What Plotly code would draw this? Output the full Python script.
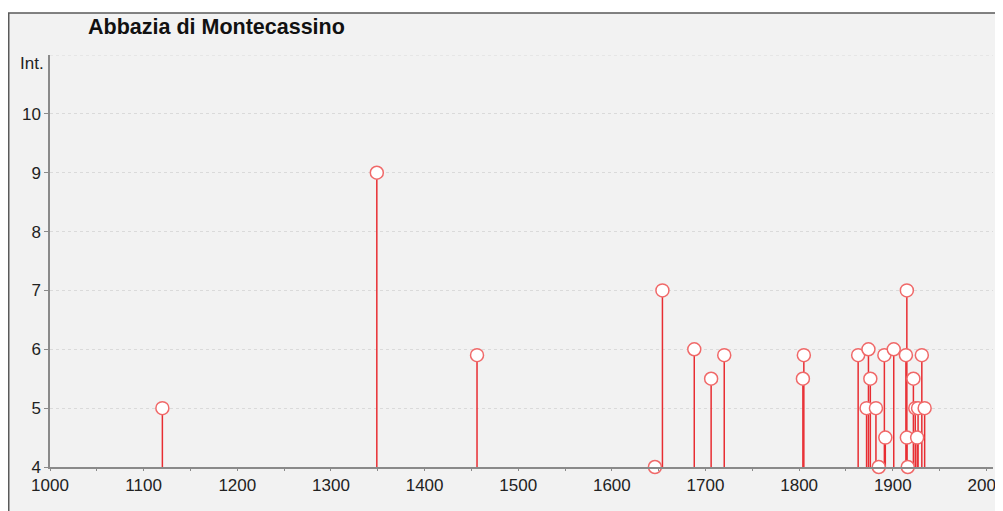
import plotly.graph_objects as go

# Data
years = [1120, 1349, 1456, 1646, 1654, 1688, 1706, 1720, 1804, 1805,
         1863, 1872, 1874, 1876, 1882, 1885, 1891, 1892, 1901,
         1914, 1915, 1915, 1916, 1922, 1924, 1926, 1927, 1931, 1934]
intensity = [5.0, 9.0, 5.9, 4.0, 7.0, 6.0, 5.5, 5.9, 5.5, 5.9,
             5.9, 5.0, 6.0, 5.5, 5.0, 4.0, 5.9, 4.5, 6.0,
             5.9, 7.0, 4.5, 4.0, 5.5, 5.0, 4.5, 5.0, 5.9, 5.0]
base = 4.0
title = "Abbazia di Montecassino"
y_title = "Int."
x_ticks = [1000, 1100, 1200, 1300, 1400, 1500, 1600, 1700, 1800, 1900, 2000]
y_ticks = [4, 5, 6, 7, 8, 9, 10]

FONT = "Liberation Sans, Arial, sans-serif"
BG = "#f2f2f2"

# page body has an 8px margin: figure sits at (8, 8) in the window
W, H = 995, 503
L, R, T, B = 42, 10, 47, 44
PW, PH = W - L - R, H - T - B

fig = go.Figure()
fig.add_trace(go.Scatter(
    x=years, y=intensity, mode="markers",
    marker=dict(size=13, color="white", line=dict(color="rgb(240,105,105)", width=1.5)),
    error_y=dict(type="data", symmetric=False,
                 array=[0] * len(intensity),
                 arrayminus=[v - base for v in intensity],
                 color="rgb(232,45,50)", thickness=1.5, width=0),
    cliponaxis=False, showlegend=False, hoverinfo="x+y",
))

fig.update_layout(
    width=W, height=H,
    margin=dict(l=L, r=R, t=T, b=B, autoexpand=False),
    paper_bgcolor="white", plot_bgcolor=BG,
    font=dict(family=FONT, size=17, color="#222"),
    shapes=[
        dict(type="rect", xref="paper", yref="paper",
             x0=(0.75 - L) / PW, x1=(W + 10 - L) / PW,
             y0=-(B + 10) / PH, y1=(H - B - 5) / PH,
             fillcolor=BG, line=dict(color="#5a5a5a", width=1.5), layer="below"),
    ],
    annotations=[
        dict(text="<b>" + title + "</b>", xref="paper", yref="paper",
             x=(86 - 50) / PW, y=(467 - 27) / PH, xanchor="left", yanchor="middle",
             showarrow=False, font=dict(family=FONT, size=21.5, color="#111")),
        dict(text=y_title, xref="paper", yref="paper",
             x=(46 - 50) / PW, y=(467 - 63) / PH, xanchor="right", yanchor="middle",
             showarrow=False, font=dict(family=FONT, size=17, color="#222")),
    ],
)

fig.update_xaxes(
    range=[1000, 2007], tickvals=x_ticks, ticktext=[str(t) for t in x_ticks],
    showline=True, linecolor="#8a8a8a", linewidth=1.5,
    ticks="outside", ticklen=2, tickcolor="#8a8a8a",
    minor=dict(dtick=50, ticks="outside", ticklen=2, tickcolor="#8a8a8a", showgrid=False),
    showgrid=False, zeroline=False, ticklabeloverflow="allow", automargin=False,
)
fig.update_yaxes(
    range=[4, 11], tickvals=y_ticks, ticktext=[str(t) for t in y_ticks],
    showline=True, linecolor="#8a8a8a", linewidth=1.5,
    ticks="outside", ticklen=4, tickcolor="#8a8a8a",
    showgrid=True, gridcolor="#dadada", griddash="dot", gridwidth=1,
    zeroline=False, automargin=False,
)
# dotted gridline at the top boundary (value 11)
fig.add_hline(y=11, line=dict(color="#dadada", dash="dot", width=1), layer="below")

fig.write_html("out.html")
